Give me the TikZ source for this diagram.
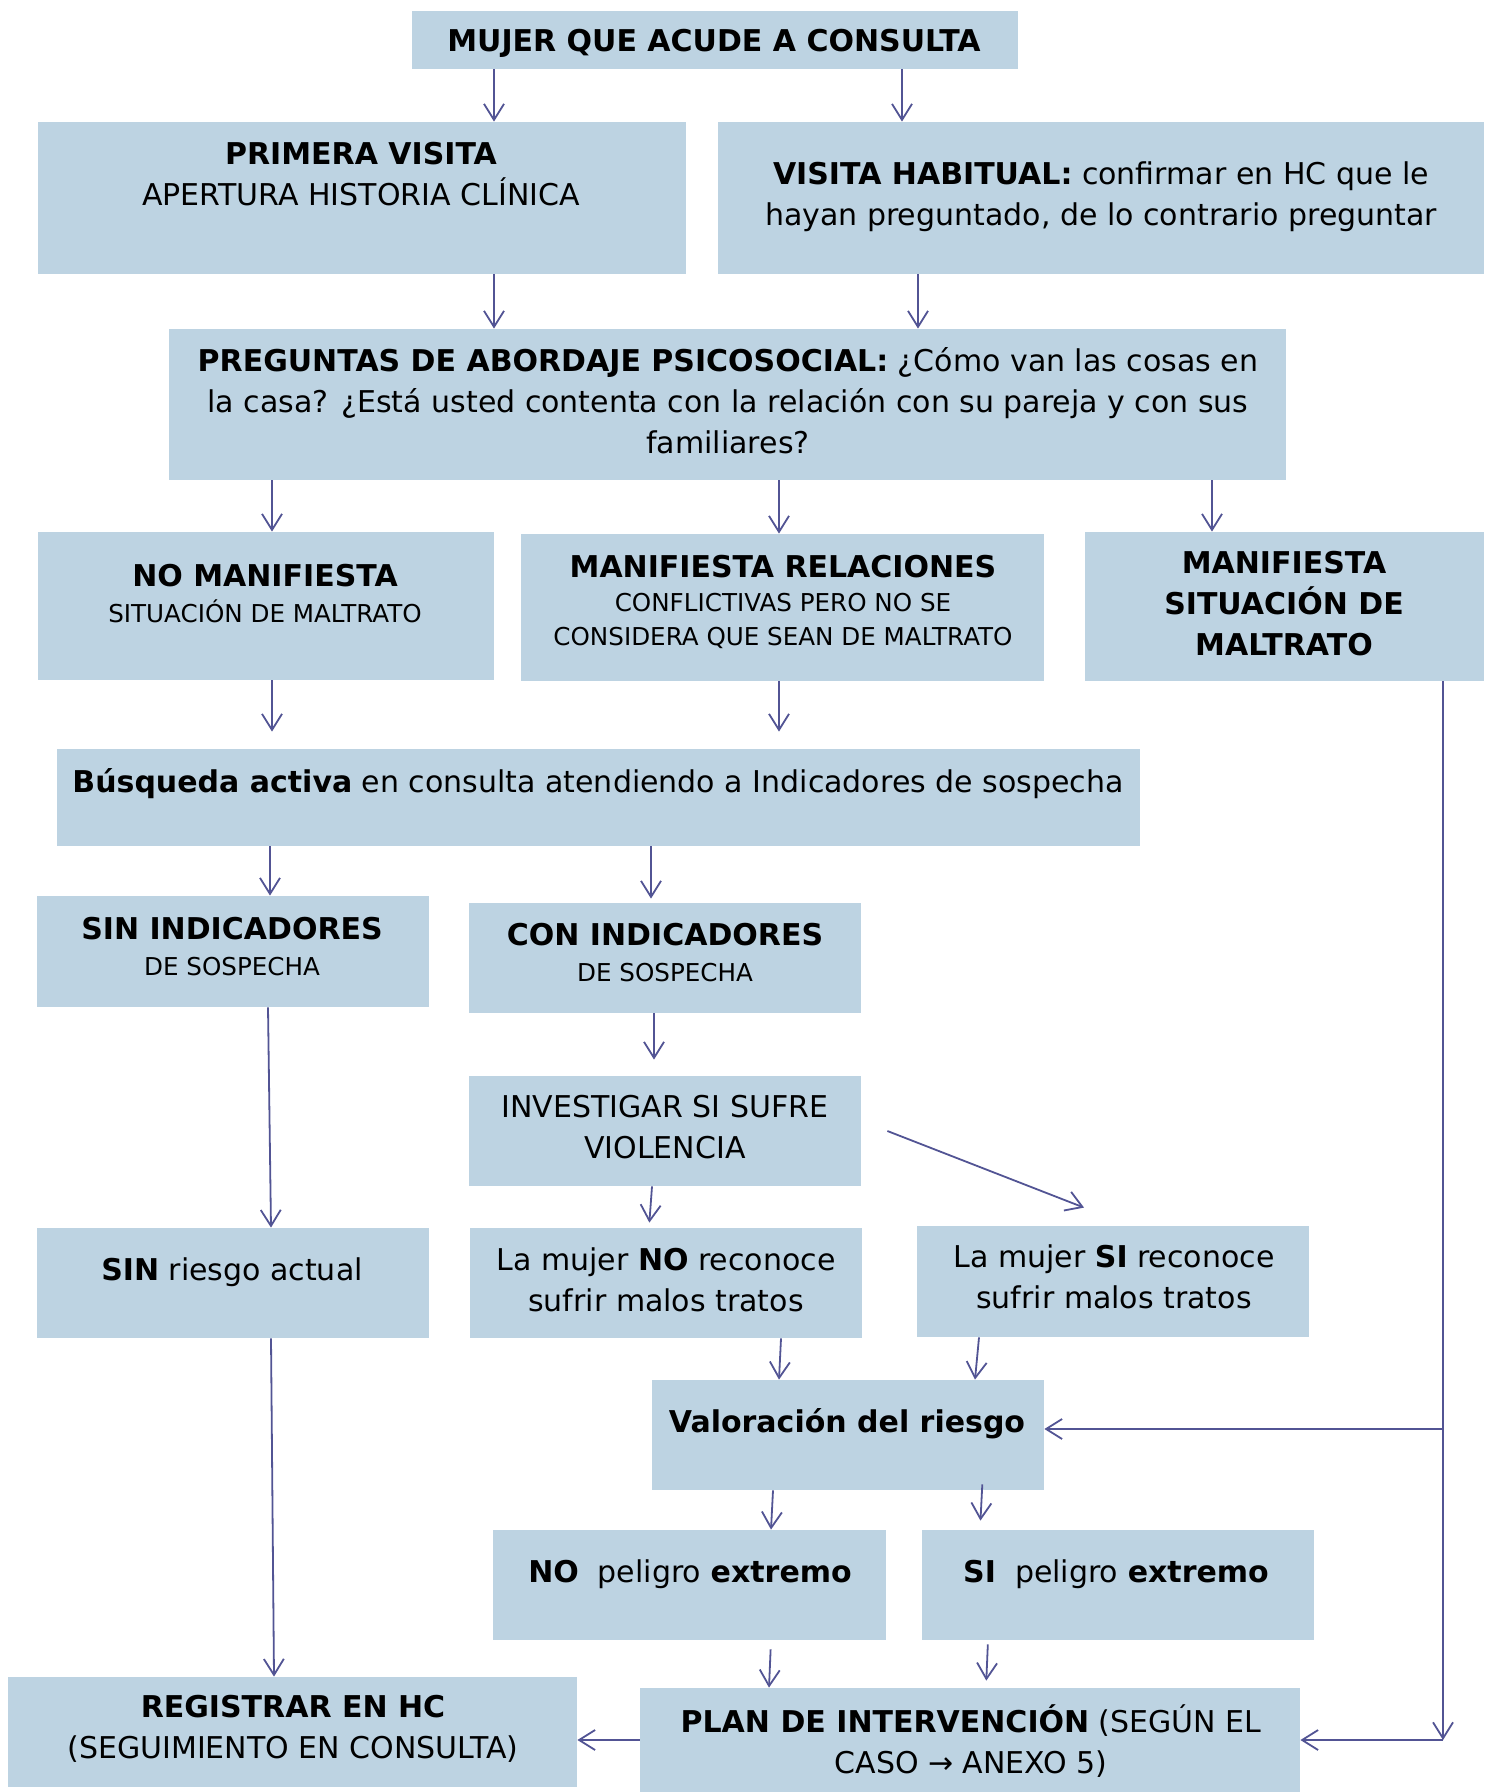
\documentclass[tikz,border=0pt]{standalone}
\usepackage{fontspec}
\setmainfont{DejaVu Sans}
\usetikzlibrary{arrows.meta,fit}
\definecolor{boxc}{RGB}{189,211,226}
\definecolor{arrc}{RGB}{82,84,148}
\begin{document}
\begin{tikzpicture}[x=0.5pt,y=-0.5pt,
 box/.style={fill=boxc, draw=none, inner sep=0pt},
 txt/.style={font=\fontsize{15}{20.5}\selectfont, align=center, inner sep=0pt, text=black},
 sml/.style={font=\fontsize{12.3}{17}\selectfont, align=center, inner sep=0pt, text=black},
 arr/.style={draw=arrc, line width=0.9pt, -{Straight Barb[length=8pt,width=10pt,line width=0.9pt]}},
 ln/.style={draw=arrc, line width=1.1pt}]
\useasboundingbox (0,0) rectangle (1492,1792);

% boxes
\node[box, fit={(412,11) (1018,69)}] (b1) {};
\node[box, fit={(38,122) (686,274)}] (b2) {};
\node[box, fit={(718,122) (1484,274)}] (b3) {};
\node[box, fit={(169,329) (1286,480)}] (b4) {};
\node[box, fit={(38,532) (494,680)}] (b5) {};
\node[box, fit={(521,534) (1044,681)}] (b6) {};
\node[box, fit={(1085,532) (1484,681)}] (b7) {};
\node[box, fit={(57,749) (1140,846)}] (b8) {};
\node[box, fit={(37,896) (429,1007)}] (b9) {};
\node[box, fit={(469,903) (861,1013)}] (b10) {};
\node[box, fit={(469,1076) (861,1186)}] (b11) {};
\node[box, fit={(37,1228) (429,1338)}] (b12) {};
\node[box, fit={(470,1228) (862,1338)}] (b13) {};
\node[box, fit={(917,1226) (1309,1337)}] (b14) {};
\node[box, fit={(652,1380) (1044,1490)}] (b15) {};
\node[box, fit={(493,1530) (886,1640)}] (b16) {};
\node[box, fit={(922,1530) (1314,1640)}] (b17) {};
\node[box, fit={(8,1677) (577,1787)}] (b18) {};
\node[box, fit={(640,1688) (1300,1792)}] (b19) {};

% texts
\node[txt, anchor=base] (t1) at (714,52) {\textbf{MUJER QUE ACUDE A CONSULTA}};
\node[txt] (t2) at (361,174) {\textbf{PRIMERA VISITA}\\APERTURA HISTORIA CLÍNICA};
\node[txt] (t3) at (1101,197) {\textbf{VISITA HABITUAL:} confirmar en HC que le\\hayan preguntado, de lo contrario preguntar};
\node[txt] (t4) at (728,401) {\textbf{PREGUNTAS DE ABORDAJE PSICOSOCIAL:} ¿Cómo van las cosas en\\la casa? ¿Está usted contenta con la relación con su pareja y con sus\\familiares?};
\node[txt, anchor=base] (t5a) at (265,586) {\textbf{NO MANIFIESTA}};
\node[sml, anchor=base] (t5b) at (265,622) {SITUACIÓN DE MALTRATO};
\node[txt, anchor=base] (t6a) at (783,577) {\textbf{MANIFIESTA RELACIONES}};
\node[sml] (t6b) at (783,621) {CONFLICTIVAS PERO NO SE\\CONSIDERA QUE SEAN DE MALTRATO};
\node[txt, font=\fontsize{15}{20.5}\selectfont\bfseries] (t7) at (1284,604) {MANIFIESTA\\SITUACIÓN DE\\MALTRATO};
\node[txt, anchor=base] (t8) at (598,792) {\textbf{Búsqueda activa} en consulta atendiendo a Indicadores de sospecha};
\node[txt, anchor=base] (t9a) at (232,939) {\textbf{SIN INDICADORES}};
\node[sml, anchor=base] (t9b) at (232,975) {DE SOSPECHA};
\node[txt, anchor=base] (t10a) at (665,945) {\textbf{CON INDICADORES}};
\node[sml, anchor=base] (t10b) at (665,981) {DE SOSPECHA};
\node[txt] (t11) at (665,1127) {INVESTIGAR SI SUFRE\\VIOLENCIA};
\node[txt, anchor=base] (t12) at (232,1280) {\textbf{SIN} riesgo actual};
\node[txt] (t13) at (666,1280) {La mujer \textbf{NO} reconoce\\sufrir malos tratos};
\node[txt] (t14) at (1114,1277) {La mujer \textbf{SI} reconoce\\sufrir malos tratos};
\node[txt, anchor=base] (t15) at (847,1432) {\textbf{Valoración del riesgo}};
\node[txt, anchor=base] (t16) at (690,1582) {\textbf{NO}\ \ peligro \textbf{extremo}};
\node[txt, anchor=base] (t17) at (1116,1582) {\textbf{SI}\ \ peligro \textbf{extremo}};
\node[txt] (t18) at (293,1729) {\textbf{REGISTRAR EN HC}\\(SEGUIMIENTO EN CONSULTA)};
\node[txt] (t19) at (971,1741) {\textbf{PLAN DE INTERVENCIÓN} (SEGÚN EL\\CASO → ANEXO 5)};

% connectors
\draw[arr] (b1.south -| 494,0) -- (b2.north -| 494,0);
\draw[arr] (b1.south -| 902,0) -- (b3.north -| 902,0);
\draw[arr] (b2.south -| 494,0) -- (b4.north -| 494,0);
\draw[arr] (b3.south -| 918,0) -- (b4.north -| 918,0);
\draw[arr] (b4.south -| 272,0) -- (b5.north -| 272,0);
\draw[arr] (b4.south -| 779,0) -- (b6.north -| 779,0);
\draw[arr] (b4.south -| 1212,0) -- (b7.north -| 1212,0);
\draw[arr, shorten >=8.5pt] (b5.south -| 272,0) -- (b8.north -| 272,0);
\draw[arr, shorten >=8.5pt] (b6.south -| 779,0) -- (b8.north -| 779,0);
\draw[arr] (b8.south -| 270,0) -- (b9.north -| 270,0);
\draw[arr, shorten >=2pt] (b8.south -| 651,0) -- (b10.north -| 651,0);
\draw[arr, shorten >=8pt] (b10.south -| 654,0) -- (b11.north -| 654,0);
\draw[arr, shorten >=2.5pt] (b11.south -| 652,0) -- (b13.north -| 649,0);
\draw[arr] ([xshift=13pt]b11.east) -- ([xshift=-14.5pt,yshift=9pt]b14.north);
\draw[arr] (b9.south -| 268,0) -- (b12.north -| 271,0);
\draw[arr] (b13.south -| 781,0) -- (b15.north -| 779,0);
\draw[arr] (b14.south -| 979,0) -- (b15.north -| 975,0);
\draw[arr] (b15.south -| 773,0) -- (b16.north -| 771,0);
\draw[arr, shorten >=4.5pt, shorten <=-3pt] (b15.south -| 982,0) -- (b17.north -| 980,0);
\draw[arr, shorten <=4.5pt] (b16.south -| 771,0) -- (b19.north -| 769,0);
\draw[arr, shorten <=2pt, shorten >=3.5pt] (b17.south -| 988,0) -- (b19.north -| 986,0);
\draw[arr] (b12.south -| 271,0) -- (b18.north -| 274,0);
\draw[arr] (b19.west) -- (b19.west -| b18.east);

\coordinate (c1) at (1443,1429);
\coordinate (c2) at (1443,1740);
\draw[arr] (b7.south -| c1) -- (c2);
\draw[arr] (c1) -- (b15.east |- c1);
\draw[arr] (c2) -- (b19.east);
\end{tikzpicture}
\end{document}
